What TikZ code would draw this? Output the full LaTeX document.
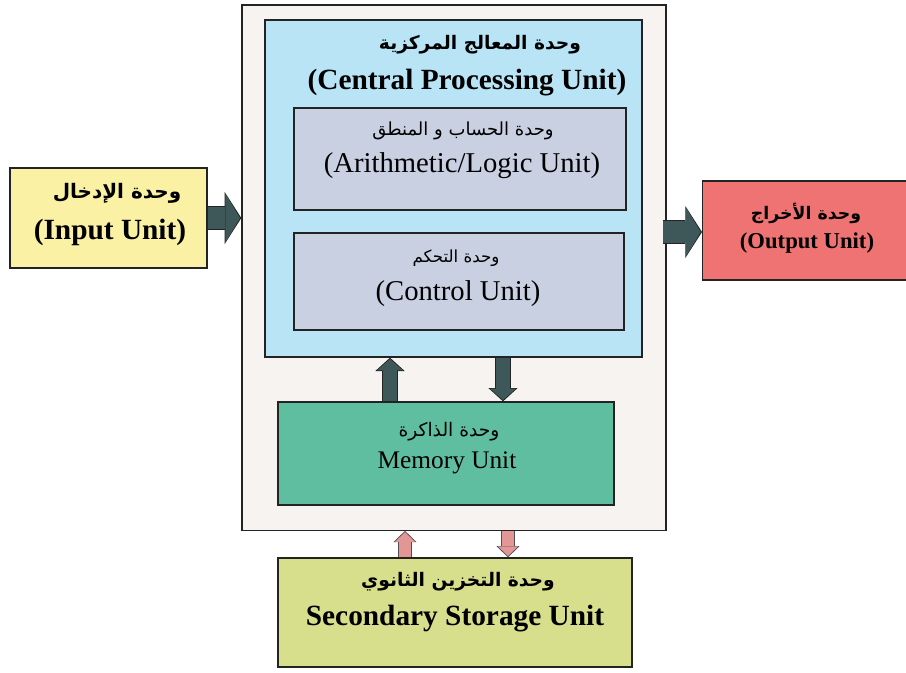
\documentclass[tikz,border=0pt]{standalone}
\usepackage{fontspec}
\setmainfont{Liberation Serif}
\newfontfamily\arabicfont[Script=Arabic]{DejaVu Sans}
\TeXXeTstate=1
\usetikzlibrary{arrows.meta}
\definecolor{outerfill}{RGB}{247,243,240}
\definecolor{cpufill}{RGB}{184,228,246}
\definecolor{subfill}{RGB}{200,208,226}
\definecolor{memfill}{RGB}{95,190,160}
\definecolor{infill}{RGB}{250,241,165}
\definecolor{outfill}{RGB}{240,115,115}
\definecolor{secfill}{RGB}{216,223,140}
\definecolor{arrdark}{RGB}{62,88,90}
\definecolor{arrpink}{RGB}{226,150,150}
\definecolor{edgecol}{RGB}{35,35,35}
\tikzset{
  box/.style={draw=edgecol, line width=1pt, rectangle, inner sep=0pt},
  txt/.style={inner sep=0pt, anchor=center},
  bigout/.style={line width=18.6pt, color=edgecol, -{Triangle[width=39pt,length=12.5pt,line width=0pt]}},
  bigin/.style={line width=16.6pt, color=arrdark, -{Triangle[width=36.5pt,length=11pt,line width=0pt]}, shorten >=1pt},
  vout/.style={line width=12.4pt, color=edgecol, -{Triangle[width=22pt,length=10pt,line width=0pt]}},
  vin/.style={line width=10.8pt, color=arrdark, -{Triangle[width=19.5pt,length=8.6pt,line width=0pt]}, shorten >=1pt},
  pout/.style={line width=10pt, color=edgecol!80, -{Triangle[width=17.5pt,length=8.5pt,line width=0pt]}},
  pin/.style={line width=8.4pt, color=arrpink, -{Triangle[width=15pt,length=7.2pt,line width=0pt]}, shorten >=1pt},
}
\begin{document}
\begin{tikzpicture}[x=0.75pt,y=-0.75pt]
\useasboundingbox (0,0) rectangle (906,672);
% boxes
\node[box, fill=outerfill, minimum width=318pt, minimum height=394pt] (outer) at (454,267.5) {};
\node[box, fill=cpufill, minimum width=282.75pt, minimum height=252.75pt] (cpu) at (453.5,188.5) {};
\node[box, fill=subfill, minimum width=249pt, minimum height=76.5pt] (alu) at (460,159) {};
\node[box, fill=subfill, minimum width=247.5pt, minimum height=72.75pt] (cu) at (459,281.5) {};
\node[box, fill=memfill, minimum width=252pt, minimum height=77.25pt] (mem) at (446,453.5) {};
\node[box, fill=infill, minimum width=147.75pt, minimum height=75pt] (in) at (108.5,218) {};
\node[box, fill=outfill, minimum width=155pt, minimum height=74.25pt] (out) at (806,230.5) {};
\node[box, fill=secfill, minimum width=265.5pt, minimum height=81.75pt] (sec) at (455,612.5) {};
% texts
\node[txt] (cpuar) at (480,45) {\fontsize{14}{16}\arabicfont\bfseries\beginR وحدة المعالج المركزية\endR};
\node[txt] (cpuen) at (467,83) {\fontsize{22}{24}\selectfont\bfseries (Central Processing Unit)};
\node[txt] (aluar) at (463,131) {\fontsize{13.5}{15}\arabicfont\beginR وحدة الحساب و المنطق\endR};
\node[txt] (aluen) at (462,166) {\fontsize{21.5}{24}\selectfont (Arithmetic/Logic Unit)};
\node[txt] (cuar) at (456,258) {\fontsize{12.5}{14}\arabicfont\beginR وحدة التحكم\endR};
\node[txt] (cuen) at (458,294) {\fontsize{21.5}{24}\selectfont (Control Unit)};
\node[txt] (memar) at (449,432) {\fontsize{14}{16}\arabicfont\beginR وحدة الذاكرة\endR};
\node[txt] (memen) at (447,463) {\fontsize{19}{22}\selectfont Memory Unit};
\node[txt] (inar) at (117,193) {\fontsize{15}{17}\arabicfont\bfseries\beginR وحدة الإدخال\endR};
\node[txt] (inen) at (110,232) {\fontsize{22}{24}\selectfont\bfseries (Input Unit)};
\node[txt] (outar) at (806,213) {\fontsize{13}{15}\arabicfont\bfseries\beginR وحدة الأخراج\endR};
\node[txt] (outen) at (807,243) {\fontsize{17}{20}\selectfont\bfseries (Output Unit)};
\node[txt] (secar) at (458,582) {\fontsize{14}{16}\arabicfont\bfseries\beginR وحدة التخزين الثانوي\endR};
\node[txt] (secen) at (455,619) {\fontsize{22}{24}\selectfont\bfseries Secondary Storage Unit};
% arrow anchors
\coordinate (xu) at (390,0);
\coordinate (xd) at (503,0);
\coordinate (xpu) at (405,0);
\coordinate (xpd) at (508,0);
\coordinate (yout) at (0,232);
% arrows
\draw[bigout] (in.east) -- (in.east -| outer.west);
\draw[bigin] (in.east) -- (in.east -| outer.west);
\draw[bigout] (yout -| outer.east) ++(-4,0) -- (yout -| out.west);
\draw[bigin] (yout -| outer.east) ++(-4,0) -- (yout -| out.west);
\draw[vout] (xu |- mem.north) -- (xu |- cpu.south);
\draw[vin] (xu |- mem.north) -- (xu |- cpu.south);
\draw[vout] (xd |- cpu.south) -- (xd |- mem.north);
\draw[vin] (xd |- cpu.south) -- (xd |- mem.north);
\draw[pout] (xpu |- sec.north) -- (xpu |- outer.south);
\draw[pin] (xpu |- sec.north) -- (xpu |- outer.south);
\draw[pout] (xpd |- outer.south) -- (xpd |- sec.north);
\draw[pin] (xpd |- outer.south) -- (xpd |- sec.north);
\end{tikzpicture}
\end{document}
